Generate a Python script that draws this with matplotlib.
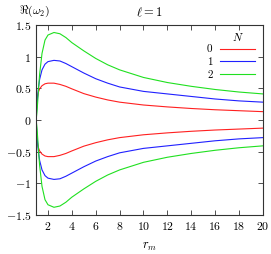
import numpy as np
import matplotlib
matplotlib.use("Agg")
import matplotlib.pyplot as plt

plt.rcParams['mathtext.fontset'] = 'cm'
plt.rcParams['font.family'] = 'serif'
plt.rcParams['font.serif'] = ['DejaVu Serif']

# r_m sample points and Re(omega_2) (upper branch,
# lower branch is the mirror image)
r_m = [1.0, 1.03, 1.06, 1.1, 1.15, 1.2, 1.3, 1.5, 1.75, 2.0, 2.5, 3.0, 3.5,
       4.0, 5.0, 6.0, 7.0, 8.0, 10.0, 12.0, 14.0, 16.0, 18.0, 20.0]
re_n0 = [0.0, 0.18, 0.27, 0.34, 0.40, 0.44, 0.49, 0.54, 0.57, 0.58, 0.58,
         0.56, 0.53, 0.49, 0.415, 0.36, 0.315, 0.28, 0.235, 0.205, 0.18,
         0.16, 0.145, 0.13]
re_n1 = [0.0, 0.08, 0.17, 0.28, 0.40, 0.50, 0.64, 0.79, 0.88, 0.92, 0.94,
         0.93, 0.89, 0.84, 0.74, 0.65, 0.58, 0.52, 0.45, 0.41, 0.37,
         0.33, 0.30, 0.28]
re_n2 = [0.0, 0.04, 0.09, 0.18, 0.32, 0.47, 0.72, 1.05, 1.26, 1.34, 1.38,
         1.36, 1.30, 1.22, 1.09, 0.97, 0.87, 0.79, 0.67, 0.59, 0.53,
         0.48, 0.44, 0.41]
labels = ['$0$', '$1$', '$2$']
colors = ['#ff2020', '#2020ff', '#20e020']

fig = plt.figure(figsize=(2.71, 2.54), dpi=100)
ax = fig.add_axes([0.133, 0.154, 0.837, 0.748])

r = np.array(r_m)
for vals, lab, c in zip([re_n0, re_n1, re_n2], labels, colors):
    v = np.array(vals)
    ax.plot(r, v, color=c, lw=0.8, label=lab)
    ax.plot(r, -v, color=c, lw=0.8)

ax.set_xlim(1, 20)
ax.set_ylim(-1.5, 1.5)
ax.set_xticks(range(2, 21, 2))
ax.set_yticks([-1.5, -1, -0.5, 0, 0.5, 1, 1.5])
ax.set_yticklabels(['$-1.5$', '$-1$', '$-0.5$', '$0$', '$0.5$', '$1$', '$1.5$'])
ax.set_xticklabels(['$%d$' % t for t in range(2, 21, 2)])
ax.tick_params(direction='in', top=True, right=True, length=3.5, width=0.6,
               labelsize=8.5, colors='#333333', labelcolor='black')
for s in ax.spines.values():
    s.set_linewidth(0.8)
    s.set_color('#333333')

ax.set_xlabel('$r_m$', fontsize=9, va='center')
ax.xaxis.set_label_coords(0.5, -0.168)
ax.set_title(r'$\ell = 1$', fontsize=9, pad=6)
fig.text(0.07, 0.955, r'$\Re(\omega_2)$', fontsize=8.5, va='center', ha='left')

# key: header "N" centred over the line samples, gnuplot style
leg = ax.legend(markerfirst=False, frameon=False,
                loc='upper right', fontsize=8,
                handlelength=3.15, labelspacing=0.05, handletextpad=0.6,
                borderaxespad=0.2, borderpad=0.3, bbox_to_anchor=(0.99, 0.937))
ax.text(0.89, 0.937, '$N$', transform=ax.transAxes, fontsize=8,
        ha='center', va='center')

fig.savefig('out.png', dpi=100)
